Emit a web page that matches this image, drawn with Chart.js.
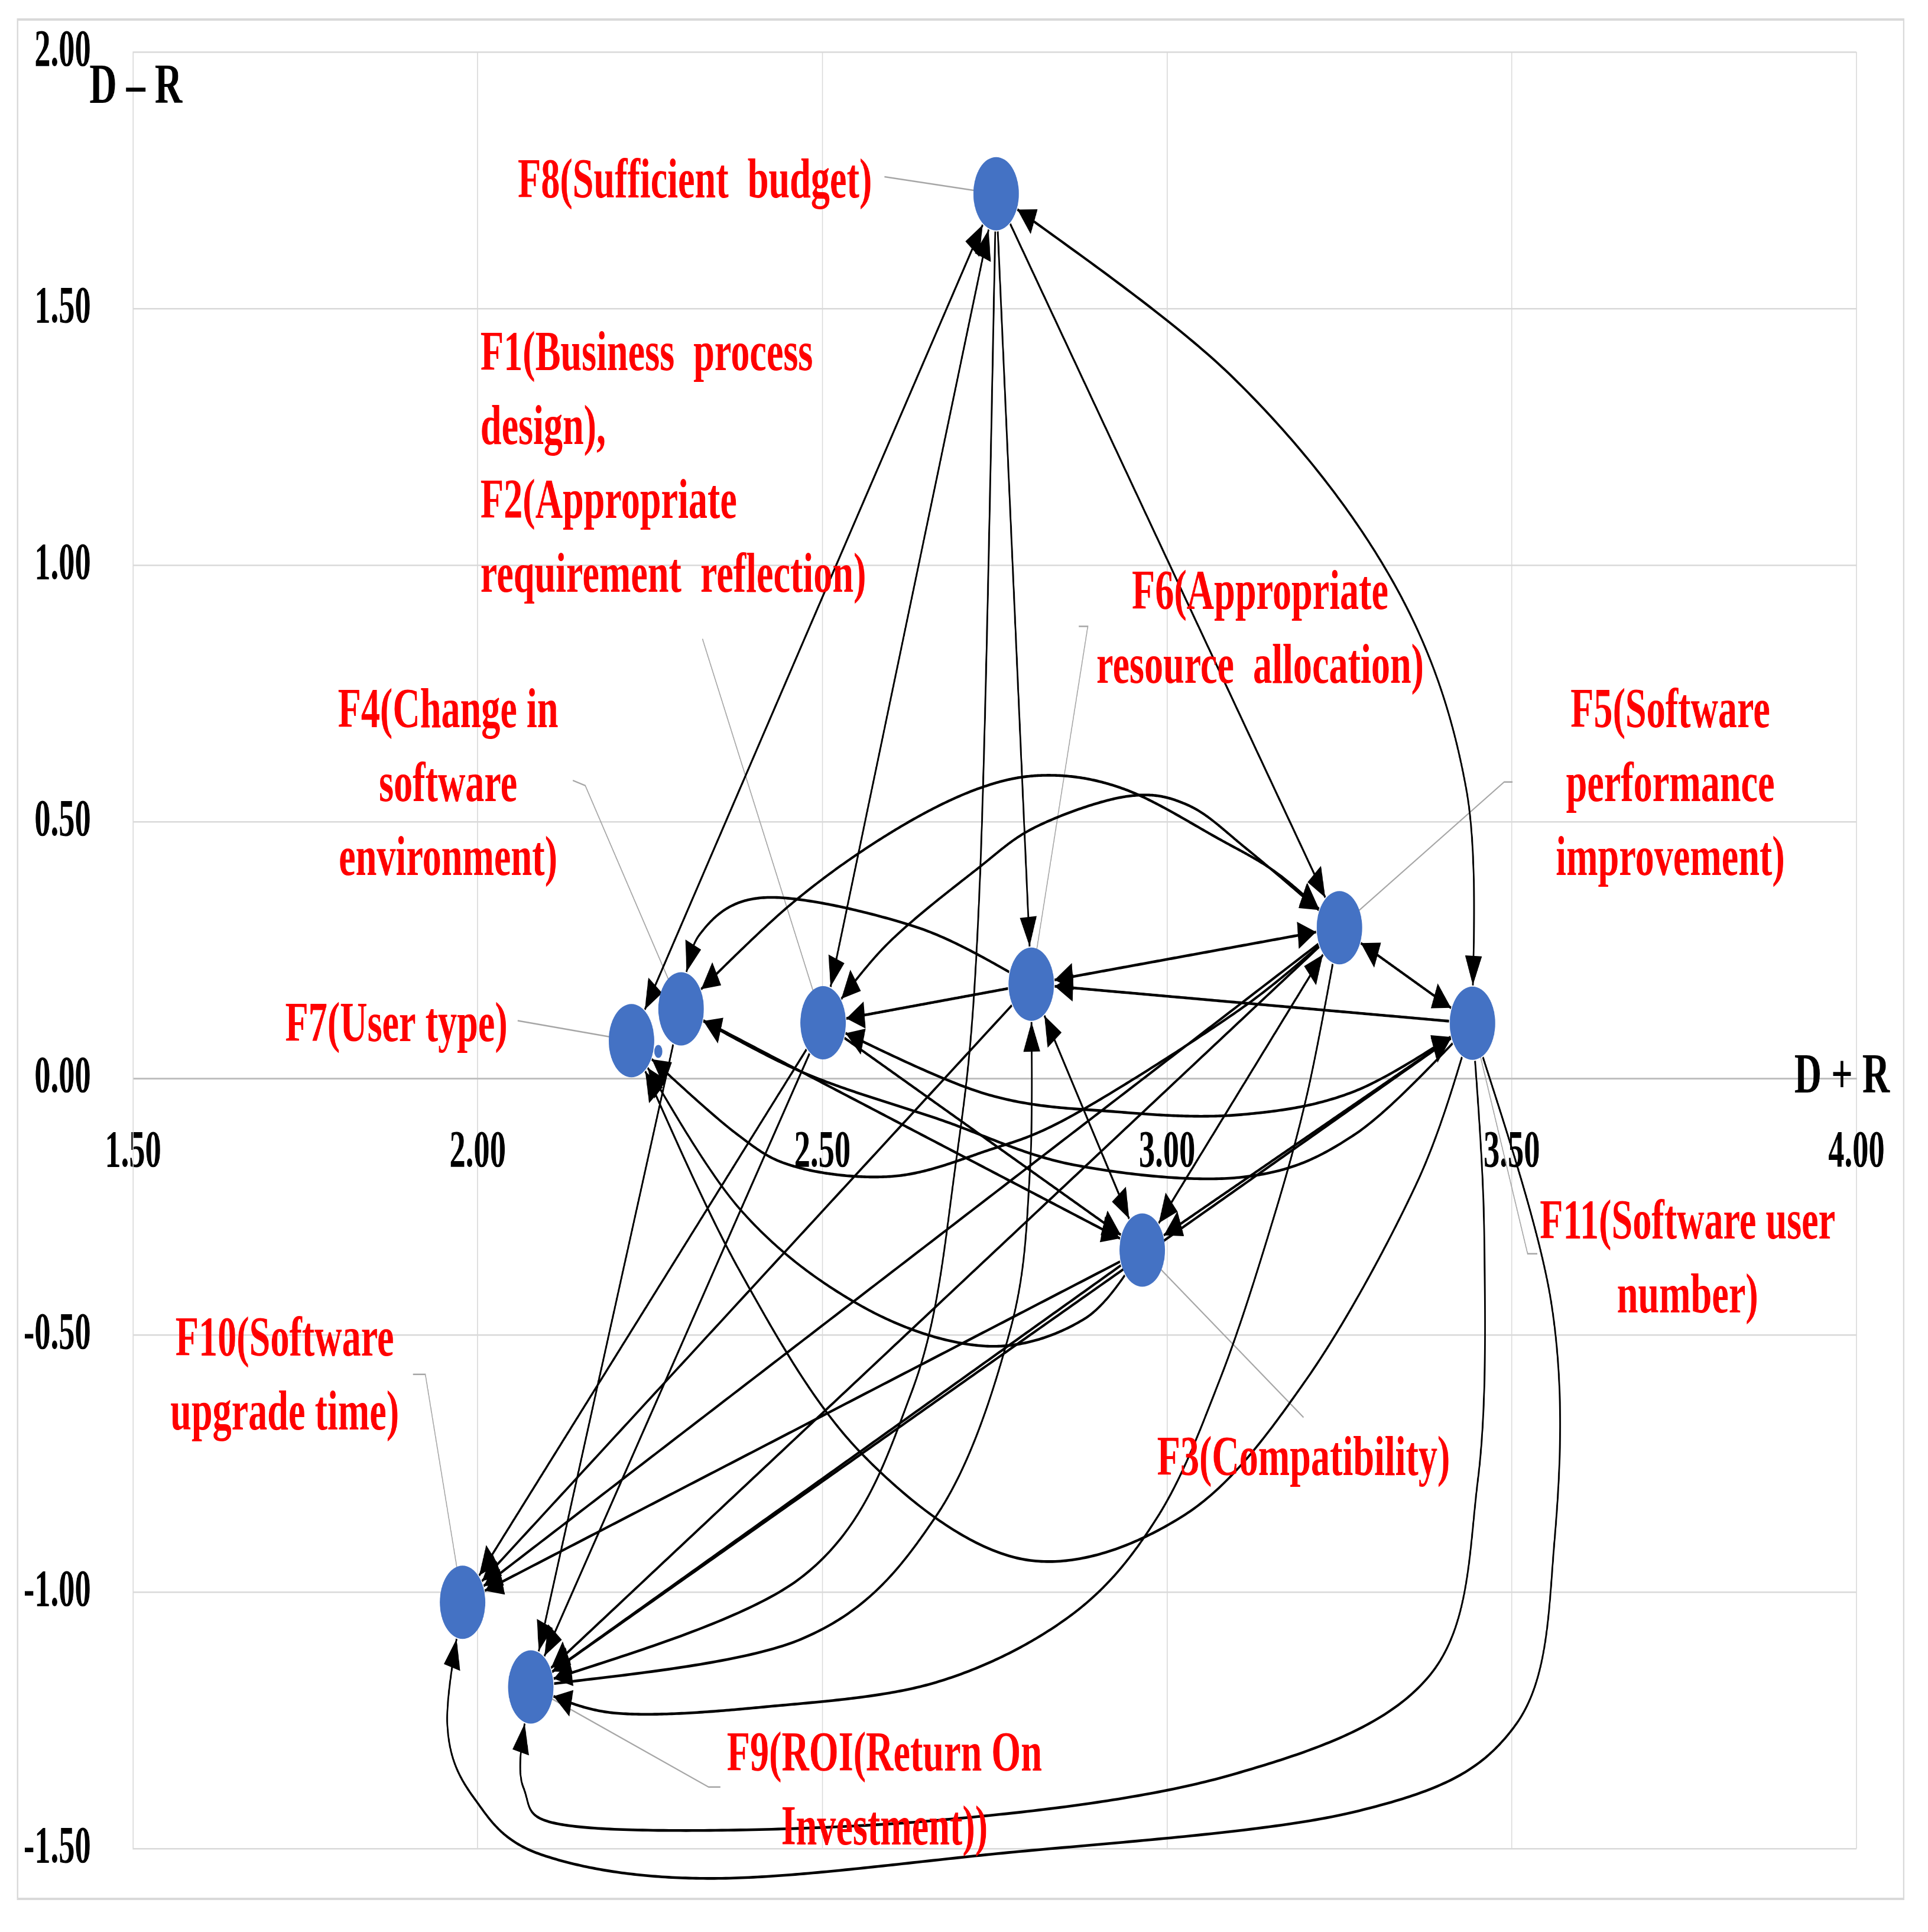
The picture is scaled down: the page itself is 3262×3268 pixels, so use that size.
<!DOCTYPE html>
<html>
<head>
<meta charset="utf-8">
<script src="https://cdn.jsdelivr.net/npm/chart.js@4.4.1/dist/chart.umd.min.js"></script>
<style>
  html, body { margin: 0; padding: 0; background: #fff; overflow: hidden; }
  #wrap { width: 3262px; height: 3268px; position: relative; overflow: hidden; }
  /* the original figure is squeezed sideways, so the chart is drawn wide and squashed */
  #dematel { position: absolute; left: 0; top: 0; transform: scaleX(0.62); transform-origin: 0 0; }
</style>
</head>
<body>
<div id="wrap"><canvas id="dematel" width="5261" height="3268"></canvas></div>
<script>
// --- data ---
const factorNames = ['F1/F2', 'F3', 'F4', 'F5', 'F6', 'F7', 'F8', 'F9', 'F10', 'F11'];
const dPlusR  = [2.501, 2.964, 2.295, 3.250, 2.803, 2.223, 2.752, 2.077, 1.978, 3.443];
const dMinusR = [0.109, -0.334, 0.136, 0.294, 0.184, 0.074, 1.724, -1.185, -1.020, 0.108];

const xTicks = [1.5, 2.0, 2.5, 3.0, 3.5, 4.0];
const yTicks = [-1.5, -1.0, -0.5, 0.0, 0.5, 1.0, 1.5, 2.0];

const factorLabels = {
  'F8':    ['F8(Sufficient  budget)'],
  'F1/F2': ['F1(Business  process', 'design),', 'F2(Appropriate', 'requirement  reflection)'],
  'F6':    ['F6(Appropriate', 'resource  allocation)'],
  'F4':    ['F4(Change in', 'software', 'environment)'],
  'F5':    ['F5(Software', 'performance', 'improvement)'],
  'F7':    ['F7(User type)'],
  'F11':   ['F11(Software user', 'number)'],
  'F10':   ['F10(Software', 'upgrade time)'],
  'F3':    ['F3(Compatibility)'],
  'F9':    ['F9(ROI(Return On', 'Investment))']
};

// influence arrows: [from, to, arrow at both ends]
const straightLinks = [
  ['F7', 'F8', true], ['F1/F2', 'F8', true], ['F8', 'F6', false], ['F8', 'F5', false],
  ['F6', 'F5', true], ['F5', 'F11', true], ['F11', 'F6', false], ['F6', 'F1/F2', false],
  ['F6', 'F3', true], ['F3', 'F5', true], ['F11', 'F3', false], ['F1/F2', 'F3', false],
  ['F4', 'F3', false], ['F5', 'F10', false], ['F5', 'F9', false], ['F1/F2', 'F10', false],
  ['F6', 'F10', false], ['F3', 'F10', false], ['F4', 'F9', false], ['F1/F2', 'F9', false],
  ['F3', 'F9', false], ['F9', 'F11', false]
];

// curved arrows: [from, to, both ends, points the curve passes through (D+R, D-R)]
const curvedLinks = [
  ['F8', 'F11', true, [[3.094, 1.368], [3.326, 0.972], [3.434, 0.564]]],
  ['F8', 'F9', false, [[2.728, 0.372], [2.692, -0.180], [2.629, -0.612], [2.469, -0.972]]],
  ['F9', 'F6', false, [[2.469, -1.092], [2.665, -0.852], [2.772, -0.492], [2.801, -0.180]]],
  ['F6', 'F4', false, [[2.637, 0.295], [2.420, 0.353], [2.322, 0.281]]],
  ['F4', 'F5', true, [[2.451, 0.336], [2.594, 0.475], [2.724, 0.564], [2.830, 0.591], [2.942, 0.562], [3.074, 0.468], [3.162, 0.398]]],
  ['F1/F2', 'F5', true, [[2.594, 0.262], [2.724, 0.408], [2.812, 0.492], [2.942, 0.550], [3.030, 0.533], [3.117, 0.446]]],
  ['F5', 'F7', false, [[3.108, 0.137], [2.865, -0.070], [2.735, -0.142], [2.604, -0.190], [2.465, -0.173], [2.374, -0.106]]],
  ['F1/F2', 'F11', true, [[2.735, -0.029], [2.931, -0.065], [3.108, -0.070], [3.273, -0.024]]],
  ['F11', 'F4', false, [[3.273, -0.108], [3.108, -0.192], [2.865, -0.168], [2.669, -0.079], [2.472, 0.012]]],
  ['F3', 'F7', false, [[2.880, -0.468], [2.737, -0.521], [2.558, -0.444], [2.379, -0.252]]],
  ['F11', 'F7', false, [[3.362, -0.204], [3.201, -0.588], [3.023, -0.852], [2.790, -0.936], [2.558, -0.732], [2.379, -0.372]]],
  ['F5', 'F9', false, [[3.203, -0.031], [3.148, -0.300], [3.076, -0.588], [2.987, -0.852], [2.862, -1.044], [2.665, -1.176], [2.415, -1.224], [2.200, -1.236]]],
  ['F11', 'F9', false, [[3.460, -0.300], [3.451, -0.780], [3.380, -1.164], [3.094, -1.356], [2.647, -1.447], [2.159, -1.459], [2.066, -1.380]]],
  ['F11', 'F10', false, [[3.557, -0.434], [3.562, -0.900], [3.505, -1.260], [3.273, -1.428], [2.737, -1.512], [2.338, -1.558], [2.093, -1.512], [1.995, -1.402], [1.956, -1.260]]]
];

// --- placement of the callouts (data units) ---
const labelPlaces = {
  'F8':    { x: 2.315, y: 1.745, align: 'center', leader: [[2.590, 1.757]] },
  'F1/F2': { x: 2.004, y: 1.409, align: 'left', leader: [[2.326, 0.857]] },
  'F6':    { x: 3.135, y: 0.943, align: 'center', leader: [[2.872, 0.881], [2.885, 0.881]] },
  'F4':    { x: 1.957, y: 0.713, align: 'center', leader: [[2.138, 0.581], [2.156, 0.571]] },
  'F5':    { x: 3.730, y: 0.713, align: 'center', leader: [[3.501, 0.578], [3.489, 0.578]] },
  'F7':    { x: 1.882, y: 0.101, align: 'center', leader: [[2.058, 0.113]] },
  'F11':   { x: 3.755, y: -0.283, align: 'center', leader: [[3.537, -0.341], [3.523, -0.341]] },
  'F10':   { x: 1.720, y: -0.511, align: 'center', leader: [[1.906, -0.576], [1.924, -0.576]] },
  'F3':    { x: 3.198, y: -0.744, align: 'center', leader: [[3.198, -0.660]] },
  'F9':    { x: 2.590, y: -1.320, align: 'center', leader: [[2.352, -1.380], [2.335, -1.380]] }
};

const NODE_R = 62;
const TEXT_STRETCH = 1.09;
const LABEL_FONT = 'bold 95px "Liberation Serif"';
const LINE_GAP = 125;

function nodeValue(name) {
  const i = factorNames.indexOf(name);
  return [dPlusR[i], dMinusR[i]];
}

// Catmull-Rom through the given pixel points, returned as a dense polyline
function smoothPath(pts) {
  if (pts.length === 2) {
    const out = [];
    for (let k = 0; k <= 200; k++) {
      const t = k / 200;
      out.push([pts[0][0] + (pts[1][0] - pts[0][0]) * t, pts[0][1] + (pts[1][1] - pts[0][1]) * t]);
    }
    return out;
  }
  const out = [];
  for (let i = 0; i < pts.length - 1; i++) {
    const p0 = pts[i - 1] || pts[i], p1 = pts[i], p2 = pts[i + 1], p3 = pts[i + 2] || pts[i + 1];
    for (let k = 0; k < 60; k++) {
      const t = k / 60, t2 = t * t, t3 = t2 * t;
      const f = (a, b, c, d) => 0.5 * ((2 * b) + (-a + c) * t + (2 * a - 5 * b + 4 * c - d) * t2 + (-a + 3 * b - 3 * c + d) * t3);
      out.push([f(p0[0], p1[0], p2[0], p3[0]), f(p0[1], p1[1], p2[1], p3[1])]);
    }
  }
  out.push(pts[pts.length - 1]);
  return out;
}

// trim a polyline so it starts and ends on the marker circles
function trimToNodes(path, a, b, r) {
  const d = (p, c) => Math.hypot(p[0] - c[0], p[1] - c[1]);
  let s = 0;
  while (s < path.length - 1 && d(path[s], a) < r) s++;
  let e = path.length - 1;
  while (e > 0 && d(path[e], b) < r) e--;
  const cross = (inside, outside, c) => {
    const di = d(inside, c), dout = d(outside, c);
    const t = (r - di) / ((dout - di) || 1);
    return [inside[0] + (outside[0] - inside[0]) * t, inside[1] + (outside[1] - inside[1]) * t];
  };
  const head = s > 0 ? cross(path[s - 1], path[s], a) : path[0];
  const tail = e < path.length - 1 ? cross(path[e + 1], path[e], b) : path[path.length - 1];
  return [head, ...path.slice(s, e + 1), tail];
}

function arrowHead(ctx, tip, from) {
  const ang = Math.atan2(tip[1] - from[1], tip[0] - from[0]);
  const L = 50, W = 23;
  ctx.beginPath();
  ctx.moveTo(tip[0], tip[1]);
  ctx.lineTo(tip[0] - L * Math.cos(ang) + W * Math.sin(ang), tip[1] - L * Math.sin(ang) - W * Math.cos(ang));
  ctx.lineTo(tip[0] - L * Math.cos(ang) - W * Math.sin(ang), tip[1] - L * Math.sin(ang) + W * Math.cos(ang));
  ctx.closePath();
  ctx.fill();
}

// point on the polyline roughly `dist` px away from one end, to aim the arrow
function pointBack(path, fromEnd, dist) {
  const n = path.length;
  const start = fromEnd ? path[n - 1] : path[0];
  for (let k = 1; k < n; k++) {
    const p = fromEnd ? path[n - 1 - k] : path[k];
    if (Math.hypot(p[0] - start[0], p[1] - start[1]) >= dist) return p;
  }
  return fromEnd ? path[0] : path[n - 1];
}

const frameAndLinks = {
  id: 'frameAndLinks',
  beforeDraw(chart) {
    const ctx = chart.ctx;
    ctx.save();
    ctx.fillStyle = '#ffffff';
    ctx.fillRect(0, 0, chart.width, chart.height);
    ctx.strokeStyle = '#d9d9d9';
    ctx.lineWidth = 4;
    ctx.strokeRect(48, 33, 5147, 3179);
    ctx.restore();
  },
  beforeDatasetsDraw(chart) {
    const { ctx, scales: { x, y } } = chart;
    const px = v => [x.getPixelForValue(v[0]), y.getPixelForValue(v[1])];
    ctx.save();

    // callout leader lines
    ctx.strokeStyle = '#a6a6a6';
    ctx.lineWidth = 2.5;
    Object.keys(labelPlaces).forEach(name => {
      const pts = labelPlaces[name].leader.map(px);
      pts.push(px(nodeValue(name)));
      ctx.beginPath();
      pts.forEach((p, i) => (i ? ctx.lineTo(p[0], p[1]) : ctx.moveTo(p[0], p[1])));
      ctx.stroke();
    });

    // influence arrows
    ctx.strokeStyle = '#000000';
    ctx.fillStyle = '#000000';
    ctx.lineWidth = 4.6;
    ctx.lineJoin = 'round';
    const all = straightLinks.map(l => [l[0], l[1], l[2], []]).concat(curvedLinks);
    all.forEach(([from, to, both, via]) => {
      const a = px(nodeValue(from)), b = px(nodeValue(to));
      const pts = [a, ...via.map(px), b];
      const path = trimToNodes(smoothPath(pts), a, b, NODE_R + 2);
      ctx.beginPath();
      path.forEach((p, i) => (i ? ctx.lineTo(p[0], p[1]) : ctx.moveTo(p[0], p[1])));
      ctx.stroke();
      arrowHead(ctx, path[path.length - 1], pointBack(path, true, 40));
      if (both) arrowHead(ctx, path[0], pointBack(path, false, 40));
    });
    ctx.restore();
  },
  afterDatasetsDraw(chart) {
    const { ctx, scales: { x, y } } = chart;
    const drawText = (str, px, py, align, color) => {
      ctx.save();
      ctx.translate(px, py);
      ctx.scale(TEXT_STRETCH, 1);
      ctx.fillStyle = color;
      ctx.textAlign = align;
      ctx.textBaseline = 'middle';
      ctx.font = LABEL_FONT;
      ctx.fillText(str, 0, 0);
      ctx.restore();
    };
    Object.keys(factorLabels).forEach(name => {
      const place = labelPlaces[name];
      const x0 = x.getPixelForValue(place.x), y0 = y.getPixelForValue(place.y);
      factorLabels[name].forEach((line, i) => drawText(line, x0, y0 + i * LINE_GAP, place.align, '#ff0000'));
    });
    // axis titles
    drawText('D – R', x.getPixelForValue(1.504), y.getPixelForValue(1.929), 'center', '#000000');
    drawText('D + R', x.getPixelForValue(3.979), y.getPixelForValue(0.001), 'center', '#000000');
  }
};

new Chart(document.getElementById('dematel'), {
  type: 'scatter',
  data: {
    datasets: [{
      label: 'Factors',
      data: factorNames.map((n, i) => ({ x: dPlusR[i], y: dMinusR[i] })),
      backgroundColor: '#4472C4',
      borderWidth: 0,
      pointRadius: NODE_R,
      pointHoverRadius: NODE_R
    }, {
      label: 'marker',
      data: [{ x: 2.262, y: 0.053 }],
      backgroundColor: '#4472C4',
      borderWidth: 0,
      pointRadius: 11
    }]
  },
  options: {
    responsive: false,
    animation: false,
    devicePixelRatio: 1,
    layout: { padding: { left: 48, right: 195, top: 88, bottom: 141 } },
    plugins: { legend: { display: false }, tooltip: { enabled: false } },
    scales: {
      x: {
        type: 'linear',
        min: 1.5, max: 4,
        position: { y: 0 },
        afterBuildTicks: s => { s.ticks = xTicks.map(v => ({ value: v })); },
        afterFit: s => { s.paddingLeft = 0; s.paddingRight = 0; },
        ticks: {
          callback: v => v.toFixed(2),
          font: { family: 'Liberation Serif', size: 88, weight: 'bold' },
          color: '#000000',
          padding: 73,
          maxRotation: 0,
          autoSkip: false
        },
        grid: { color: '#d9d9d9', lineWidth: 2.5, drawTicks: false },
        border: { display: true, color: '#bfbfbf', width: 3 }
      },
      y: {
        type: 'linear',
        min: -1.5, max: 2,
        position: 'left',
        afterBuildTicks: s => { s.ticks = yTicks.map(v => ({ value: v })); },
        afterFit: s => { s.width = 315; s.paddingTop = 0; s.paddingBottom = 0; },
        ticks: {
          callback: v => v.toFixed(2),
          font: { family: 'Liberation Serif', size: 88, weight: 'bold' },
          color: '#000000',
          padding: 115,
          autoSkip: false
        },
        grid: { color: ctx => (ctx.tick && ctx.tick.value === 0 ? '#bfbfbf' : '#d9d9d9'), lineWidth: ctx => (ctx.tick && ctx.tick.value === 0 ? 3 : 2.5), drawTicks: false },
        border: { display: true, color: '#d9d9d9', width: 2.5 }
      }
    }
  },
  plugins: [frameAndLinks]
});
</script>
</body>
</html>
